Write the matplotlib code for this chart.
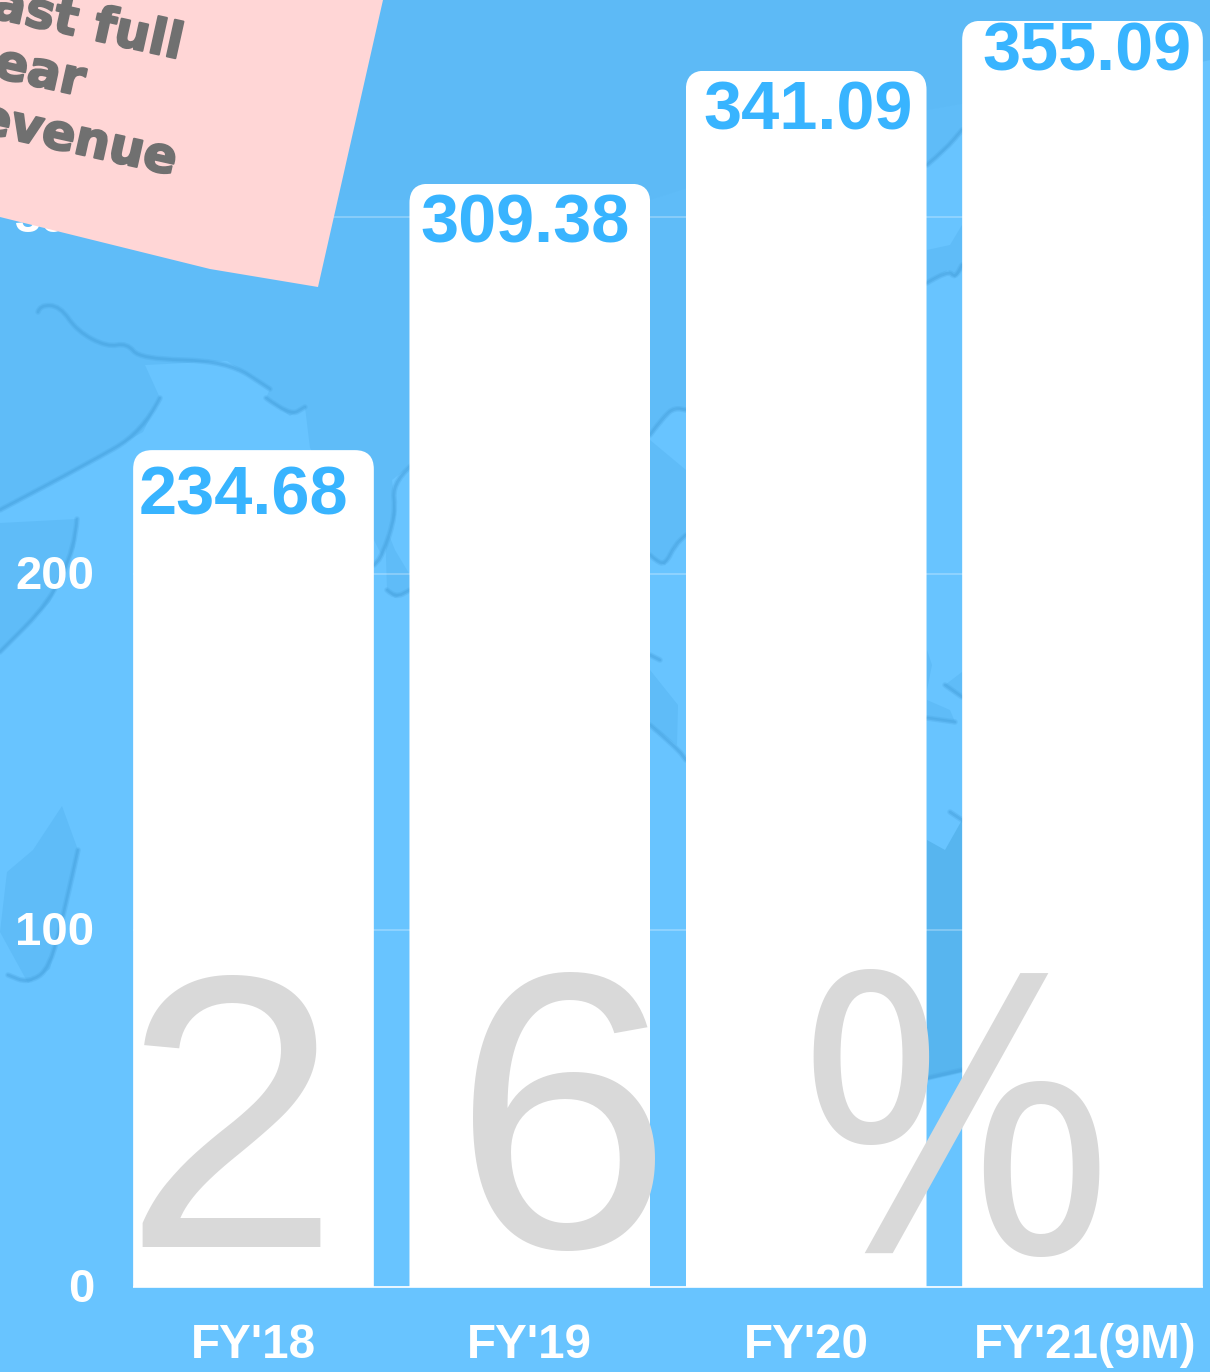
import matplotlib
matplotlib.use("Agg")
import matplotlib.pyplot as plt
import matplotlib.patheffects as pe
from matplotlib.path import Path
from matplotlib.patches import PathPatch, Polygon
from matplotlib.transforms import ScaledTranslation

categories = ["FY'18", "FY'19", "FY'20", "FY'21(9M)"]
revenue = [234.68, 309.38, 341.09, 355.09]
y_ticks = [0, 100, 200, 300]
value_labels = ["234.68", "309.38", "341.09", "355.09"]
note_lines = ["last full", "year", "revenue"]

W, H = 1210, 1372
BG = "#68C4FF"
LAND = "#5FBCF8"
COAST = "#4BA6E2"
VAL = "#38B4FF"
plt.rcParams["font.family"] = ["Liberation Sans", "DejaVu Sans"]

fig = plt.figure(figsize=(W / 100, H / 100), dpi=100, facecolor=BG)


def smooth(pts):
    """Open path through the midpoints of a coarse outline."""
    verts, codes = [pts[0]], [Path.MOVETO]
    for i in range(1, len(pts) - 1):
        verts += [pts[i], ((pts[i][0] + pts[i + 1][0]) / 2, (pts[i][1] + pts[i + 1][1]) / 2)]
        codes += [Path.CURVE3, Path.CURVE3]
    verts.append(pts[-1]); codes.append(Path.LINETO)
    return Path(verts, codes)


# background map decoration, in pixel coordinates
bg = fig.add_axes([0, 0, 1, 1], zorder=0)
bg.set_xlim(0, W); bg.set_ylim(H, 0); bg.axis("off")
north = [(0, 0), (1210, 0), (1210, 60), (1100, 85), (962, 130), (945, 150), (927, 165), (800, 300), (686, 410),
         (675, 408), (665, 415), (650, 435), (520, 470), (418, 460), (392, 480), (396, 515), (382, 556), (374, 540),
         (310, 448), (305, 407), (290, 416), (266, 398), (270, 389), (227, 361), (145, 365), (160, 398), (143, 432),
         (87, 464), (0, 510)]
bg.add_patch(Polygon(north, closed=True, facecolor=LAND, edgecolor="none"))
bg.add_patch(Polygon([(0, 0), (1210, 0), (1210, 60), (927, 110), (650, 200), (400, 200), (0, 200)], closed=True,
                     facecolor="#57B5F0", edgecolor="none", alpha=0.2))
lands = [
    [(0, 523), (77, 519), (75, 547), (50, 602), (0, 652)],
    [(62, 806), (78, 850), (67, 900), (50, 969), (28, 983), (0, 932), (7, 872), (33, 850)],
    [(650, 440), (686, 470), (686, 535), (675, 545), (665, 565), (655, 560), (650, 555)],
    [(927, 250), (950, 245), (962, 225), (962, 270), (955, 278), (948, 270), (927, 283)],
    [(650, 670), (678, 705), (677, 745), (650, 725)],
    [(945, 685), (962, 672), (962, 697)],
    [(927, 700), (950, 710), (955, 722), (927, 718)],
    [(927, 650), (932, 665), (927, 690)],
    [(385, 525), (387, 590), (395, 598), (410, 590), (410, 575), (395, 550)],
]
for pts in lands:
    bg.add_patch(Polygon(pts, closed=True, facecolor=LAND, edgecolor="none"))
bg.add_patch(Polygon([(927, 840), (945, 850), (962, 820), (962, 1072), (927, 1080)], closed=True,
                     facecolor="#57B5EF", edgecolor="none"))
coasts = [
    [(38, 312), (40, 305), (60, 306), (77, 331), (107, 347), (127, 343), (140, 359), (227, 361), (270, 389)],
    [(266, 398), (290, 416), (305, 407)],
    [(160, 398), (143, 432), (87, 464), (0, 510)],
    [(77, 519), (75, 547), (50, 602), (0, 652)],
    [(78, 850), (67, 900), (50, 969), (28, 983), (8, 975)],
    [(418, 460), (392, 480), (396, 515), (382, 556), (374, 565)],
    [(387, 590), (395, 598), (410, 590)],
    [(650, 435), (665, 415), (675, 408), (686, 410)],
    [(650, 555), (655, 560), (665, 565), (675, 545), (686, 535)],
    [(650, 655), (660, 660)],
    [(650, 725), (677, 748), (686, 760)],
    [(927, 165), (945, 150), (962, 130)],
    [(927, 283), (948, 270), (955, 278), (962, 265)],
    [(945, 685), (962, 697)],
    [(927, 718), (955, 722)],
    [(950, 812), (962, 820)],
    [(927, 1078), (962, 1070)],
]
for pts in coasts:
    bg.add_patch(PathPatch(smooth(pts), fill=False, edgecolor=COAST, lw=4, alpha=0.3, capstyle="round"))
    bg.add_patch(PathPatch(smooth(pts), fill=False, edgecolor=COAST, lw=2, alpha=0.55, capstyle="round"))

# main chart
ax = fig.add_axes([133 / W, 85 / H, (1203 - 133) / W, 1287 / H], zorder=1)
ax.patch.set_alpha(0)
ax.set_xlim(-0.436, 3.436)
ax.set_ylim(0, 1287 / 3.566)
ax.set_axisbelow(True)
ax.grid(axis="y", color="white", alpha=0.3, lw=1.2)
ax.grid(axis="x", visible=False)
for s in ["top", "left", "right"]:
    ax.spines[s].set_visible(False)
ax.spines["bottom"].set_color("white")
ax.spines["bottom"].set_linewidth(1.2)
ax.spines["bottom"].set_capstyle("butt")
ax.set_yticks(y_ticks)
ax.set_xticks(range(len(categories)), categories)
ax.tick_params(axis="y", length=0, pad=28, labelcolor="white", labelsize=34)
ax.tick_params(axis="x", length=0, pad=26, labelcolor="white", labelsize=34.3)
for t in ax.get_yticklabels():
    t.set_fontweight("bold")
    t.set_transform(t.get_transform() + ScaledTranslation(0, 2 / 100, fig.dpi_scale_trans))
for t in ax.get_xticklabels():
    t.set_fontweight("bold")
lab = ax.get_xticklabels()[3]
lab.set_transform(lab.get_transform() + ScaledTranslation(3 / 100, 0, fig.dpi_scale_trans))

bars = ax.bar(range(len(revenue)), revenue, width=0.871, color="white", lw=0, zorder=2)
rx, ry = 19 / 276.3, 19 / 3.566
for b in bars:
    x0, x1, top = b.get_x(), b.get_x() + b.get_width(), b.get_height()
    verts = [(x0, 0), (x0, top - ry), (x0, top), (x0 + rx, top), (x1 - rx, top), (x1, top), (x1, top - ry), (x1, 0), (x0, 0)]
    codes = [Path.MOVETO, Path.LINETO, Path.CURVE3, Path.CURVE3, Path.LINETO, Path.CURVE3, Path.CURVE3, Path.LINETO, Path.CLOSEPOLY]
    b.set_clip_path(Path(verts, codes), ax.transData)

label_dx = [-10, -5, 2, 4]
label_dy = [-64, -59, -59, -50]
for i, v in enumerate(revenue):
    ax.annotate(value_labels[i], (i, v), xytext=(label_dx[i], label_dy[i]), textcoords="offset pixels",
                ha="center", va="baseline", color=VAL, fontsize=49.3, fontweight="bold", zorder=4)

# overlay: big grey text and pink note, pixel coordinates
ov = fig.add_axes([0, 0, 1, 1], zorder=2)
ov.set_xlim(0, W); ov.set_ylim(H, 0); ov.axis("off")
ov.text(231, 1247, "2", ha="center", va="baseline", fontsize=281, color="#D9D9D9", zorder=1)
ov.text(563, 1247, "6", ha="center", va="baseline", fontsize=284, color="#D9D9D9", zorder=1)
ov.text(956, 1253, "%", ha="center", va="baseline", fontsize=283, family="Open Sans", color="#D9D9D9", zorder=1)

ov.add_patch(Polygon([(0, 0), (383, 0), (318, 287), (210, 269), (0, 217)], closed=True,
                     facecolor="#FFD6D6", edgecolor="none", zorder=2))
for line, ex, ey in zip(note_lines, [179, 81, 173], [59, 96, 175]):
    ov.text(ex, ey, line, ha="right", va="baseline", rotation=-12.5, rotation_mode="anchor",
            family="DejaVu Sans", fontweight="bold", fontsize=35.5, color="#707070", zorder=3,
            path_effects=[pe.withStroke(linewidth=1.5, foreground="#707070")])

fig.savefig("out.png", dpi=100, facecolor=BG)
